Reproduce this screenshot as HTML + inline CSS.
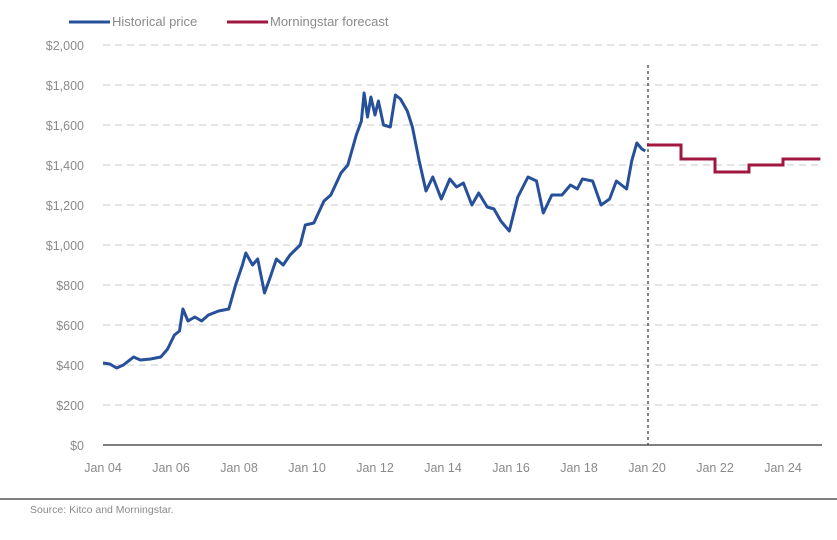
<!DOCTYPE html>
<html><head><meta charset="utf-8"><style>
body{margin:0;background:#fff;width:837px;height:535px;overflow:hidden}
text{font-family:"Liberation Sans",sans-serif;fill:#8a8a8a}
</style></head><body>
<svg id="s" width="837" height="535" xmlns="http://www.w3.org/2000/svg">
<g stroke="#dcdcdc" stroke-width="1.5" stroke-dasharray="7,5">
<line x1="103" x2="822" y1="45" y2="45"/><line x1="103" x2="822" y1="85" y2="85"/>
<line x1="103" x2="822" y1="125" y2="125"/><line x1="103" x2="822" y1="165" y2="165"/>
<line x1="103" x2="822" y1="205" y2="205"/><line x1="103" x2="822" y1="245" y2="245"/>
<line x1="103" x2="822" y1="285" y2="285"/><line x1="103" x2="822" y1="325" y2="325"/>
<line x1="103" x2="822" y1="365" y2="365"/><line x1="103" x2="822" y1="405" y2="405"/>
</g>
<line x1="103" x2="822" y1="445" y2="445" stroke="#555" stroke-width="1.5"/>
<line x1="648" x2="648" y1="65" y2="445" stroke="#333" stroke-width="1.2" stroke-dasharray="3,3"/>
<g font-size="12.5" text-anchor="end">
<text x="84" y="50">$2,000</text><text x="84" y="90">$1,800</text><text x="84" y="130">$1,600</text>
<text x="84" y="170">$1,400</text><text x="84" y="210">$1,200</text><text x="84" y="250">$1,000</text>
<text x="84" y="290">$800</text><text x="84" y="330">$600</text><text x="84" y="370">$400</text>
<text x="84" y="410">$200</text><text x="84" y="450">$0</text>
</g>
<g font-size="12.5" text-anchor="middle">
<text x="103" y="472">Jan 04</text><text x="171" y="472">Jan 06</text><text x="239" y="472">Jan 08</text>
<text x="307" y="472">Jan 10</text><text x="375" y="472">Jan 12</text><text x="443" y="472">Jan 14</text>
<text x="511" y="472">Jan 16</text><text x="579" y="472">Jan 18</text><text x="647" y="472">Jan 20</text>
<text x="715" y="472">Jan 22</text><text x="783" y="472">Jan 24</text>
</g>
<line x1="0" x2="837" y1="499" y2="499" stroke="#333" stroke-width="1.2"/>
<text x="30" y="513" font-size="10.5">Source: Kitco and Morningstar.</text>
<line x1="69" x2="110" y1="22" y2="22" stroke="#27509b" stroke-width="3"/>
<text x="112" y="26" font-size="13">Historical price</text>
<line x1="227" x2="268" y1="22" y2="22" stroke="#a0173f" stroke-width="3"/>
<text x="270" y="26" font-size="13">Morningstar forecast</text>
<polyline id="h" fill="none" stroke="#27509b" stroke-width="3" stroke-linejoin="round"/>
<polyline id="f" fill="none" stroke="#a0173f" stroke-width="3"/>
</svg>
<script>
var X=function(y){return 103+34*(y-2004)},Y=function(p){return 445-p*0.2};
var d=[[2004,410],[2004.2,405],[2004.4,385],[2004.6,400],[2004.9,440],[2005.1,425],[2005.4,430],[2005.7,440],[2005.9,480],[2006.1,550],[2006.25,570],[2006.35,680],[2006.5,620],[2006.7,640],[2006.9,620],[2007.1,650],[2007.4,670],[2007.7,680],[2007.9,800],[2008.1,900],[2008.2,960],[2008.4,900],[2008.55,930],[2008.75,760],[2008.9,830],[2009.1,930],[2009.3,900],[2009.5,950],[2009.8,1000],[2009.95,1100],[2010.2,1110],[2010.5,1220],[2010.7,1250],[2011,1360],[2011.2,1400],[2011.45,1550],[2011.6,1620],[2011.68,1760],[2011.78,1640],[2011.88,1740],[2012,1650],[2012.1,1720],[2012.25,1600],[2012.45,1590],[2012.6,1750],[2012.75,1730],[2012.95,1670],[2013.1,1590],[2013.3,1420],[2013.5,1270],[2013.7,1340],[2013.95,1230],[2014.2,1330],[2014.4,1290],[2014.6,1310],[2014.85,1200],[2015.05,1260],[2015.3,1190],[2015.5,1180],[2015.7,1120],[2015.95,1070],[2016.2,1240],[2016.5,1340],[2016.75,1320],[2016.95,1160],[2017.2,1250],[2017.5,1250],[2017.75,1300],[2017.95,1280],[2018.1,1330],[2018.4,1320],[2018.65,1200],[2018.9,1230],[2019.1,1320],[2019.4,1280],[2019.55,1420],[2019.7,1510],[2019.85,1480],[2019.95,1470]];
document.getElementById('h').setAttribute('points',d.map(function(p){return X(p[0]).toFixed(1)+','+Y(p[1]).toFixed(1)}).join(' '));
var f=[[2020,1500],[2021,1500],[2021,1430],[2022,1430],[2022,1365],[2023,1365],[2023,1400],[2024,1400],[2024,1430],[2025.1,1430]];
document.getElementById('f').setAttribute('points',f.map(function(p){return X(p[0]).toFixed(1)+','+Y(p[1]).toFixed(1)}).join(' '));
</script>
</body></html>
